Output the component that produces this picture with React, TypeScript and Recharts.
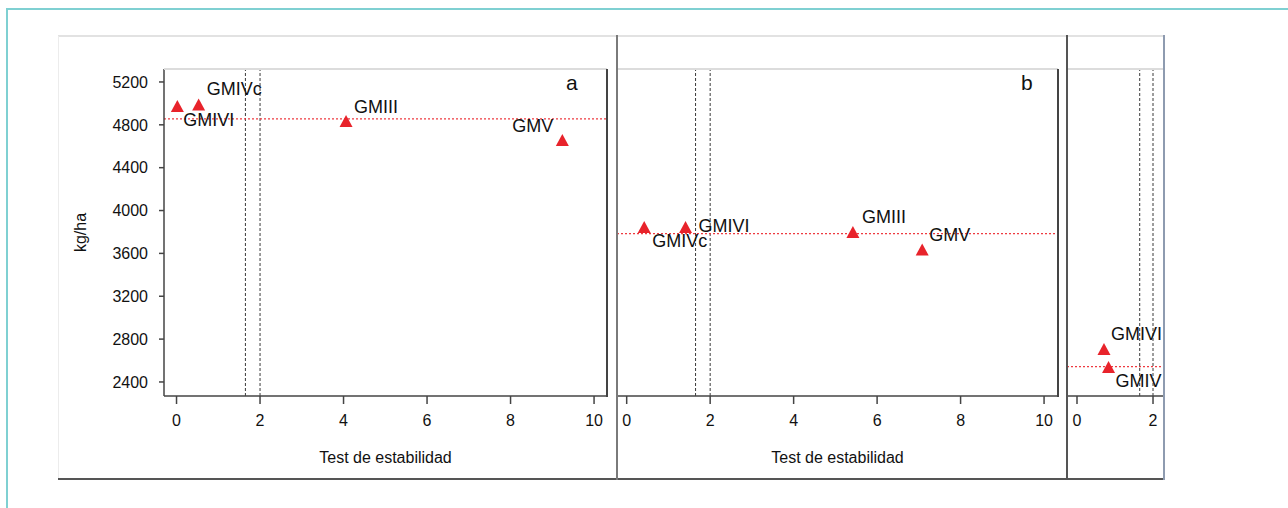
import React from 'react'
import { ReferenceLine, Scatter, ScatterChart, XAxis, YAxis } from 'recharts'

// yield (kg/ha) vs stability test, three environments
const genotypesA = ['GMIVI', 'GMIVc', 'GMIII', 'GMV']
const stabilityA = [0.02, 0.53, 4.06, 9.24]
const yieldA = [4967, 4980, 4827, 4649]
const meanA = 4856

const genotypesB = ['GMIVc', 'GMIVI', 'GMIII', 'GMV']
const stabilityB = [0.42, 1.41, 5.42, 7.08]
const yieldB = [3837, 3837, 3790, 3626]
const meanB = 3785

const genotypesC = ['GMIVI', 'GMIV']
const stabilityC = [0.71, 0.83]
const yieldC = [2699, 2531]
const meanC = 2543

const thresholds = [1.65, 2]
const yieldTicks = [2400, 2800, 3200, 3600, 4000, 4400, 4800, 5200]
const stabilityTicks = [0, 2, 4, 6, 8, 10]
const stabilityTicksC = [0, 2]

type Place = { dx: number; dy: number; anchor?: 'start' | 'end' }

// where each genotype name sits relative to its marker
const placeA: Record<string, Place> = {
  GMIVI: { dx: 6, dy: 13 },
  GMIVc: { dx: 8, dy: -17 },
  GMIII: { dx: 8, dy: -15 },
  GMV: { dx: -9, dy: -15, anchor: 'end' },
}
const placeB: Record<string, Place> = {
  GMIVc: { dx: 8, dy: 13 },
  GMIVI: { dx: 13, dy: -2 },
  GMIII: { dx: 9, dy: -16 },
  GMV: { dx: 7, dy: -16 },
}
const placeC: Record<string, Place> = {
  GMIVI: { dx: 7, dy: -16 },
  GMIV: { dx: 7, dy: 13 },
}

const FONT = '"Liberation Sans", Arial, sans-serif'
const RED = '#e8232b'
const AXIS = '#444'
const Y_DOMAIN = [2269, 5321]

const toRows = (names: string[], xs: number[], ys: number[]) =>
  names.map((name, i) => ({ name, x: xs[i], y: ys[i] }))

function makeMarker(place: Record<string, Place>) {
  return (props: any) => {
    const { cx, cy, payload } = props
    const p = place[payload.name] ?? { dx: 8, dy: -14 }
    return (
      <g>
        <polygon points={`${cx},${cy - 7} ${cx - 6.5},${cy + 5} ${cx + 6.5},${cy + 5}`} fill={RED} />
        <text
          x={cx + p.dx}
          y={cy + p.dy}
          textAnchor={p.anchor ?? 'start'}
          dominantBaseline="central"
          fontSize={18}
          fontFamily={FONT}
          fill="#111"
        >
          {payload.name}
        </text>
      </g>
    )
  }
}

interface PanelProps {
  rows: { name: string; x: number; y: number }[]
  mean: number
  place: Record<string, Place>
  xDomain: number[]
  xTicks: number[]
  width: number
  right: number
  withY?: boolean
  withTitle?: boolean
}

function Panel({ rows, mean, place, xDomain, xTicks, width, right, withY, withTitle }: PanelProps) {
  const tickStyle = { fontSize: 16, fontFamily: FONT, fill: '#111' }
  return (
    <ScatterChart width={width} height={443} margin={{ top: 33, right, bottom: 0, left: 0 }}>
      <XAxis
        type="number"
        dataKey="x"
        domain={xDomain}
        ticks={xTicks}
        allowDataOverflow
        height={83}
        tickSize={8}
        tickMargin={11}
        stroke={AXIS}
        strokeWidth={1.5}
        tick={tickStyle}
        label={
          withTitle
            ? {
                value: 'Test de estabilidad',
                position: 'insideBottom',
                offset: 16,
                style: { fontSize: 16, fontFamily: FONT, fill: '#111' },
              }
            : undefined
        }
      />
      <YAxis
        type="number"
        dataKey="y"
        domain={Y_DOMAIN}
        ticks={yieldTicks}
        allowDataOverflow
        hide={!withY}
        width={106}
        tickSize={5}
        tickMargin={11}
        stroke={AXIS}
        strokeWidth={1.5}
        tick={tickStyle}
        label={{
          content: ({ viewBox }: any) => (
            <text
              x={viewBox.x + 22}
              y={viewBox.y + viewBox.height / 2}
              transform={`rotate(-90 ${viewBox.x + 22} ${viewBox.y + viewBox.height / 2})`}
              textAnchor="middle"
              dominantBaseline="central"
              fontSize={16}
              fontFamily={FONT}
              fill="#111"
            >
              kg/ha
            </text>
          ),
        }}
      />
      {thresholds.map((t) => (
        <ReferenceLine key={t} x={t} stroke="#3a3a3a" strokeWidth={1} strokeDasharray="3 2" />
      ))}
      <ReferenceLine y={mean} stroke="#ee3a40" strokeWidth={1.3} strokeDasharray="2 2" />
      <Scatter data={rows} isAnimationActive={false} shape={makeMarker(place)} />
    </ScatterChart>
  )
}

const line = (left: number, top: number, width: number, height: number, bg: string): React.CSSProperties => ({
  position: 'absolute',
  left,
  top,
  width,
  height,
  background: bg,
})

export default function App() {
  const letter = { position: 'absolute' as const, fontSize: 21, fontFamily: FONT, color: '#111', lineHeight: 1 }
  return (
    <div style={{ position: 'fixed', left: 0, top: 0, width: 1288, height: 508, overflow: 'hidden', background: '#fff' }}>
      <div style={{ position: 'absolute', left: 6, top: 8, width: 1400, height: 700, border: '2px solid #7fd0d2' }} />

      <div style={{ position: 'absolute', left: 58, top: 36 }}>
        <Panel
          rows={toRows(genotypesA, stabilityA, yieldA)}
          mean={meanA}
          place={placeA}
          xDomain={[-0.3, 10.31]}
          xTicks={stabilityTicks}
          width={559}
          right={10}
          withY
          withTitle
        />
      </div>
      <div style={{ position: 'absolute', left: 617, top: 36 }}>
        <Panel
          rows={toRows(genotypesB, stabilityB, yieldB)}
          mean={meanB}
          place={placeB}
          xDomain={[-0.232, 10.334]}
          xTicks={stabilityTicks}
          width={450}
          right={9}
          withTitle
        />
      </div>
      <div style={{ position: 'absolute', left: 1067, top: 36 }}>
        <Panel
          rows={toRows(genotypesC, stabilityC, yieldC)}
          mean={meanC}
          place={placeC}
          xDomain={[-0.263, 2.289]}
          xTicks={stabilityTicksC}
          width={97}
          right={0}
        />
      </div>

      {/* panel frames */}
      <div style={line(58, 35, 1106, 2, '#e2e2e2')} />
      <div style={line(58, 36, 1, 444, '#ececec')} />
      <div style={line(58, 478, 1106, 2, '#555')} />
      <div style={line(164, 68, 443, 2, '#dcdcdc')} />
      <div style={line(617, 68, 441, 2, '#dcdcdc')} />
      <div style={line(1067, 68, 97, 2, '#dcdcdc')} />
      <div style={line(606, 69, 2, 328, AXIS)} />
      <div style={line(1057, 69, 2, 328, AXIS)} />
      <div style={line(616, 35, 2, 445, '#7a7a7a')} />
      <div style={line(1066, 35, 2, 445, '#555')} />
      <div style={line(1163, 35, 2, 445, '#8e9bb0')} />

      <div style={{ ...letter, left: 566, top: 72 }}>a</div>
      <div style={{ ...letter, left: 1021, top: 72 }}>b</div>
    </div>
  )
}
